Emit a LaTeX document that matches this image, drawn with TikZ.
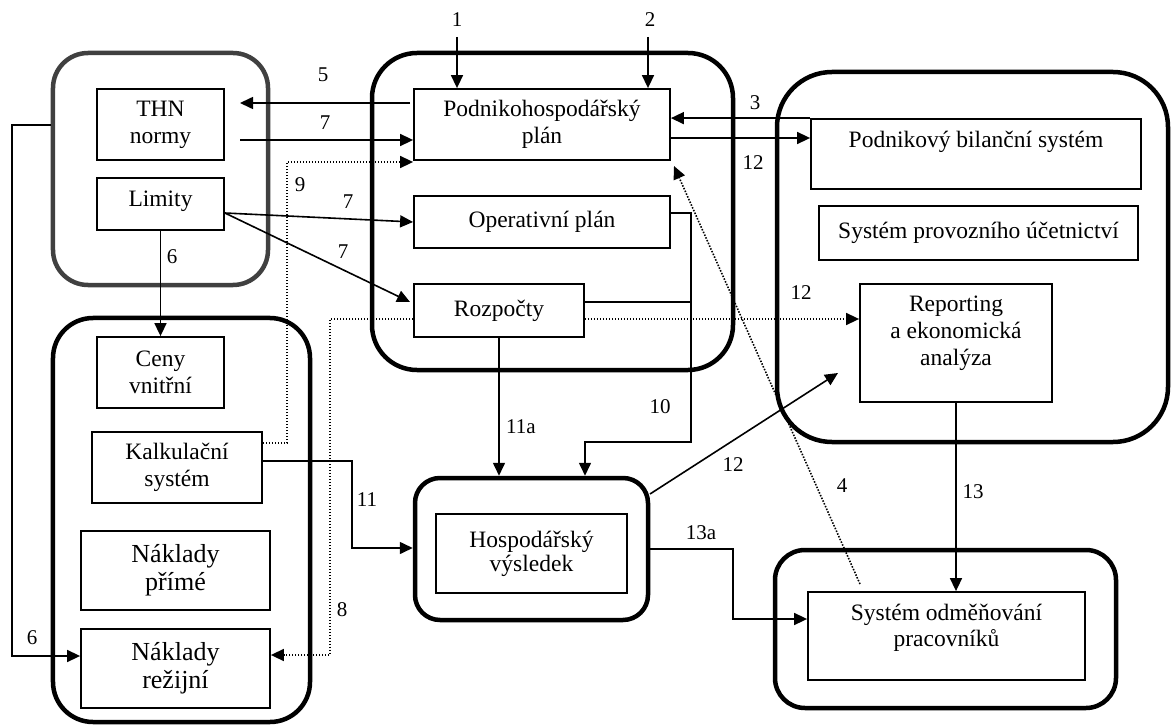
\documentclass[tikz,border=0pt]{standalone}
\usepackage{fontspec}
\setmainfont{Liberation Serif}
\usetikzlibrary{arrows.meta,calc}
\begin{document}
\begin{tikzpicture}[x=1bp,y=-1bp,
  grp/.style={draw=black, line width=4.5bp, rounded corners=#1, inner sep=0pt},
  grp/.default=40bp,
  box/.style={draw=black, line width=1.8bp, inner sep=0pt, align=center,
    font=\fontsize{23.5bp}{27bp}\selectfont},
  bigbox/.style={box, font=\fontsize{26bp}{28bp}\selectfont},
  lab/.style={inner sep=0pt, font=\fontsize{21bp}{24bp}\selectfont},
  conn/.style={line width=1.6bp},
  arr/.style={conn, -{Triangle[length=13bp,width=12bp]}},
  dot/.style={dash pattern=on 1.5bp off 1.5bp}]
\useasboundingbox (0,0) rectangle (1171,725);

% ---- group frames
\node[grp=35bp, draw=black!75, minimum width=215bp, minimum height=232bp] (g1) at (160.5,169) {};
\node[grp=45bp, minimum width=361bp, minimum height=317bp] (g2) at (552.5,211.5) {};
\node[grp=40bp, minimum width=257bp, minimum height=404bp] (g3) at (181.5,520) {};
\node[grp=25bp, minimum width=233bp, minimum height=142bp] (g4) at (531.5,549) {};
\node[grp=55bp, minimum width=391bp, minimum height=370bp] (g5) at (972.5,257) {};
\node[grp=30bp, minimum width=341bp, minimum height=158bp] (g6) at (945.5,629) {};

% ---- boxes
\node[box, minimum width=127bp, minimum height=71bp] (thn) at (160.5,124.5) {THN\\normy};
\node[box, minimum width=127bp, minimum height=52bp, text depth=8bp, text height=14bp] (lim) at (160.5,204) {Limity};
\node[box, minimum width=256bp, minimum height=71bp] (php) at (542,124.5) {Podnikohospodářský\\plán};
\node[box, minimum width=256bp, minimum height=52bp] (op) at (542,222) {Operativní plán};
\node[box, minimum width=170bp, minimum height=53bp] (roz) at (499,310.5) {Rozpočty};
\node[box, minimum width=127bp, minimum height=71bp] (ceny) at (160.5,372.5) {Ceny\\vnitřní};
\node[box, minimum width=170bp, minimum height=71bp] (kalk) at (177,467.5) {Kalkulační\\systém};
\node[bigbox, minimum width=189bp, minimum height=79bp] (npr) at (175.5,570.5) {Náklady\\přímé};
\node[bigbox, minimum width=189bp, minimum height=79bp] (nrez) at (175.5,668.5) {Náklady\\režijní};
\node[box, minimum width=191bp, minimum height=79bp, font=\fontsize{23.5bp}{25bp}\selectfont] (hv) at (531.5,553.5) {Hospodářský\\[-1bp]výsledek};
\node[box, minimum width=330bp, minimum height=70bp,
  label={[yshift=12bp, inner sep=0pt, font=\fontsize{23.5bp}{27bp}\selectfont]center:Podnikový bilanční systém}] (pbs) at (976,154) {};
\node[box, minimum width=319bp, minimum height=54bp] (spu) at (978.5,233) {Systém provozního účetnictví};
\node[box, minimum width=192bp, minimum height=118bp,
  label={[yshift=10bp, inner sep=0pt, align=center, font=\fontsize{23.5bp}{27bp}\selectfont]center:Reporting\\a ekonomická\\analýza}] (rep) at (956,343) {};
\node[box, minimum width=277bp, minimum height=88bp,
  label={[yshift=8bp, inner sep=0pt, align=center, font=\fontsize{23.5bp}{26bp}\selectfont]center:Systém odměňování\\pracovníků}] (som) at (946.5,636) {};

% ---- helper points of the connectors
\coordinate (t1) at (457,37);
\coordinate (t2) at (648,37);
\coordinate (t5) at (240,103);
\coordinate (s5) at (410,103);
\coordinate (s7) at (240,140);
\coordinate (k9a) at (287,443);
\coordinate (k9b) at (287,162);
\coordinate (k7a) at (224,213);
\coordinate (k7b) at (410,302);
\coordinate (k6a) at (12,125);
\coordinate (k6b) at (12,656);
\coordinate (k8a) at (330,319);
\coordinate (k8b) at (330,655);
\coordinate (k10a) at (691,213);
\coordinate (k10b) at (691,442);
\coordinate (k10c) at (585,442);
\coordinate (k10d) at (691,302);
\coordinate (k11a) at (352,461);
\coordinate (k11b) at (352,548);
\coordinate (k12a) at (650,494);
\coordinate (k12b) at (838,373);
\coordinate (k12c) at (700,138);
\coordinate (k13a) at (733,549);
\coordinate (k13b) at (733,619);
\coordinate (k4a) at (860,584);
\coordinate (k4b) at (674,166);

% ---- connectors
\draw[arr] (t1) -- (t1 |- php.north);
\draw[arr] (t2) -- (t2 |- php.north);
\draw[arr] (s5) -- (t5);
\draw[arr] (s7) -- (php.west |- s7);
\draw[arr, dot] (kalk.east |- k9a) -- (k9a) -- (k9b) -- (php.west |- k9b);
\draw[arr] (lim.east |- k7a) -- (op.west);
\draw[arr] (lim.east |- k7a) -- (k7b);
\draw[arr] (lim.south) -- (ceny.north);
\draw[arr] (g1.west |- k6a) -- (k6a) -- (k6b) -- (nrez.west |- k6b);
\draw[arr, dot] (roz.west |- k8a) -- (k8a) -- (k8b) -- (nrez.east |- k8b);
\draw[arr, dot] (roz.east |- k8a) -- (rep.west |- k8a);
\draw[arr] (op.east |- k10a) -- (k10a) -- (k10b) -- (k10c) -- (k10c |- g4.north);
\draw[conn] (roz.east |- k10d) -- (k10d);
\draw[arr] (roz.south) -- (roz.south |- g4.north);
\draw[arr] (kalk.east |- k11a) -- (k11a) -- (k11b) -- (g4.west |- k11b);
\draw[arr] (k12a) -- (k12b);
\draw[arr] (g4.east) -- (k13a) -- (k13b) -- (som.west |- k13b);
\draw[arr] (rep.south) -- (rep.south |- som.north);
\draw[arr, dot] (k4a) -- (k4b);
\draw[arr] (pbs.north west) -- (php.east |- pbs.north west);
\draw[arr] (php.east |- k12c) -- (pbs.west |- k12c);

% ---- connector numbers
\node[lab] (n1) at (457,20) {1};
\node[lab] (n2) at (650,20) {2};
\node[lab] (n5) at (323,75) {5};
\node[lab] (n7a) at (325,123) {7};
\node[lab] (n9) at (300,185) {9};
\node[lab] (n7b) at (348,202) {7};
\node[lab] (n7c) at (343,252) {7};
\node[lab] (n6a) at (172,257) {6};
\node[lab] (n3) at (755,103) {3};
\node[lab] (n12a) at (753,163) {12};
\node[lab] (n12b) at (801,293) {12};
\node[lab] (n10) at (660,407) {10};
\node[lab] (n11a) at (521,427) {11a};
\node[lab] (n11) at (367,500) {11};
\node[lab] (n12c) at (733,465) {12};
\node[lab] (n13a) at (701,533) {13a};
\node[lab] (n13) at (973,492) {13};
\node[lab] (n4) at (842,486) {4};
\node[lab] (n8) at (342,610) {8};
\node[lab] (n6b) at (32,638) {6};
\end{tikzpicture}
\end{document}
